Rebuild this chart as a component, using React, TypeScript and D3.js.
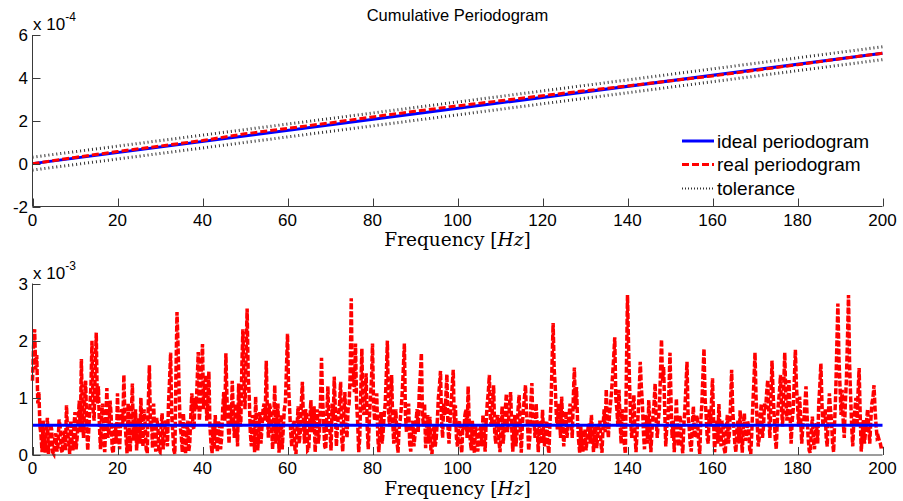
import React from 'react';
import * as d3 from 'd3';

// ---------- data ----------
// periodogram values (x 1e-3), sampled every 0.25 Hz from 0 to 200 Hz (one row = 5 Hz)
const periodogram: number[] = [
  1.3, 1.9, 2.2, 1.5, 1.75, 0.9, 1.1, 0.5, 0.35, 0.05, 0.6, 0.3, 0.04, 0.4, 0.65, 0.02, 0.2, 0.55, 0.45, 0.05,
  0.02, 0.3, 0.38, 0.06, 0.18, 0.62, 0.5, 0.1, 0.04, 0.35, 0.42, 0.08, 0.87, 0.4, 0.25, 0.02, 0.6, 0.3, 0.08, 0.5,
  0.75, 0.1, 0.3, 0.6, 0.95, 0.4, 1.68, 0.7, 0.3, 0.9, 1.3, 0.5, 0.08, 0.45, 0.85, 1.2, 2.0, 0.8, 0.6, 1.5,
  2.14, 0.9, 1.2, 0.5, 0.1, 0.7, 0.9, 0.2, 0.05, 0.6, 1.17, 0.3, 0.45, 0.95, 0.7, 0.1, 0.03, 0.4, 0.55, 0.2,
  1.08, 0.4, 0.1, 0.6, 0.8, 0.5, 1.4, 0.6, 0.3, 0.03, 0.9, 0.45, 0.06, 0.7, 1.25, 0.25, 0.5, 0.8, 0.08, 0.5,
  0.65, 0.2, 1.0, 0.45, 0.15, 0.8, 0.55, 0.1, 0.03, 0.9, 1.57, 0.5, 0.6, 0.12, 0.9, 0.4, 0.06, 0.65, 0.5, 0.05,
  0.04, 0.5, 0.73, 0.1, 0.3, 0.6, 0.55, 0.15, 0.9, 1.3, 1.79, 0.7, 0.4, 0.08, 0.02, 1.4, 2.5, 1.9, 1.1, 0.5,
  0.35, 0.05, 0.73, 0.4, 0.02, 0.3, 0.6, 0.06, 0.2, 0.7, 1.08, 0.5, 0.45, 1.0, 0.8, 1.3, 1.8, 0.6, 0.9, 1.5,
  1.94, 0.8, 1.2, 1.4, 0.6, 0.9, 1.46, 0.5, 0.2, 0.03, 0.55, 0.1, 0.7, 0.35, 0.05, 0.6, 0.5, 0.1, 0.3, 0.8,
  1.1, 0.6, 1.78, 1.0, 0.6, 0.2, 0.9, 0.5, 1.3, 0.7, 0.3, 0.9, 0.7, 0.15, 1.25, 0.6, 0.5, 1.5, 2.2, 1.3,
  0.8, 1.8, 2.56, 1.4, 1.0, 0.4, 0.15, 0.7, 0.6, 0.05, 1.02, 0.5, 0.08, 0.45, 0.75, 0.2, 0.5, 0.8, 0.9, 0.6,
  1.65, 0.8, 0.3, 0.9, 0.8, 0.5, 0.1, 0.6, 1.22, 0.2, 0.6, 0.9, 0.04, 0.4, 0.7, 0.1, 0.45, 0.8, 0.9, 1.5,
  2.12, 1.2, 0.8, 0.4, 0.15, 0.5, 0.6, 0.1, 0.02, 0.5, 0.85, 0.2, 0.4, 0.9, 1.28, 0.6, 0.2, 0.8, 0.7, 0.08,
  0.1, 0.6, 0.96, 0.4, 0.5, 0.85, 0.05, 0.45, 0.8, 0.2, 0.4, 0.9, 1.7, 1.0, 0.6, 0.15, 0.1, 0.7, 1.2, 0.5,
  0.4, 0.08, 0.9, 0.6, 1.37, 0.8, 0.15, 0.5, 0.7, 0.9, 1.28, 0.3, 0.06, 0.7, 1.1, 0.5, 0.3, 0.8, 0.9, 1.4,
  2.74, 1.2, 1.5, 1.1, 1.95, 0.9, 0.6, 0.05, 0.3, 1.1, 1.86, 0.8, 0.7, 1.0, 1.43, 0.5, 0.1, 0.6, 1.0, 1.3,
  1.95, 0.9, 0.6, 0.8, 1.08, 0.3, 0.05, 0.5, 0.75, 0.2, 0.4, 0.7, 0.9, 1.4, 2.0, 0.8, 0.5, 0.9, 1.4, 0.6,
  0.2, 0.5, 0.8, 0.25, 0.04, 0.45, 0.6, 0.8, 1.1, 1.5, 1.95, 0.7, 0.4, 0.6, 0.9, 0.2, 0.06, 0.5, 0.6, 0.15,
  0.35, 0.6, 0.8, 0.4, 1.1, 1.4, 1.78, 0.7, 0.5, 0.9, 0.12, 0.5, 0.7, 0.2, 0.67, 0.08, 0.02, 0.4, 0.5, 0.15,
  0.3, 0.6, 1.0, 1.2, 1.47, 0.6, 0.3, 0.9, 0.7, 1.0, 1.41, 0.5, 0.2, 0.6, 0.9, 1.2, 1.49, 0.5, 0.87, 0.3,
  0.15, 0.5, 0.6, 0.2, 0.04, 0.5, 0.45, 0.7, 0.8, 0.3, 1.2, 0.6, 0.25, 0.08, 0.6, 0.2, 0.03, 0.5, 0.4, 0.06,
  0.2, 0.45, 0.5, 0.15, 0.7, 0.4, 0.06, 0.6, 0.9, 1.1, 1.4, 0.6, 0.5, 0.9, 1.22, 0.4, 0.2, 0.6, 0.7, 0.25,
  0.05, 0.5, 0.85, 0.2, 0.45, 0.8, 1.07, 0.4, 0.6, 0.9, 1.1, 0.5, 0.06, 0.4, 0.7, 0.15, 0.4, 0.8, 1.05, 0.5,
  0.04, 0.5, 0.8, 1.0, 1.22, 0.7, 0.5, 0.08, 0.3, 0.9, 1.26, 0.5, 0.6, 0.3, 0.9, 0.5, 0.05, 0.6, 0.55, 0.2,
  0.79, 0.4, 0.15, 0.5, 0.6, 0.2, 0.03, 0.55, 0.9, 1.6, 2.31, 1.5, 1.2, 0.7, 0.45, 0.9, 0.7, 0.3, 1.02, 0.6,
  0.15, 0.5, 0.76, 0.3, 0.5, 0.7, 0.9, 0.6, 0.3, 1.0, 1.53, 0.8, 1.19, 0.6, 0.25, 0.04, 0.5, 0.2, 0.06, 0.4,
  0.45, 0.08, 0.3, 0.5, 0.55, 0.2, 0.7, 0.4, 0.05, 0.45, 0.5, 0.12, 0.35, 0.5, 0.6, 0.2, 0.04, 0.5, 0.8, 0.4,
  1.15, 0.6, 0.3, 0.7, 0.9, 1.1, 1.4, 1.7, 2.06, 1.0, 0.8, 0.5, 1.14, 0.6, 0.2, 0.8, 0.6, 0.2, 0.02, 1.5,
  2.8, 1.9, 1.2, 0.6, 0.3, 0.8, 1.05, 0.4, 0.05, 0.4, 0.7, 1.1, 1.63, 1.2, 0.9, 0.4, 0.1, 0.7, 0.6, 0.2,
  0.96, 0.5, 0.05, 0.4, 0.7, 0.9, 1.25, 0.6, 0.3, 0.6, 0.8, 1.4, 2.02, 1.3, 1.54, 0.8, 0.15, 0.5, 0.6, 1.1,
  1.79, 0.9, 0.3, 0.6, 0.05, 0.5, 0.99, 0.4, 0.15, 0.7, 0.6, 0.2, 0.03, 0.5, 0.8, 1.2, 1.63, 0.7, 0.5, 0.2,
  0.06, 0.5, 0.85, 0.3, 0.35, 0.7, 0.6, 0.2, 0.02, 0.6, 0.9, 1.4, 1.86, 1.0, 0.7, 0.3, 0.2, 0.8, 0.5, 0.9,
  1.34, 0.6, 0.05, 0.4, 0.6, 0.2, 0.89, 0.5, 0.15, 0.6, 0.5, 0.1, 0.02, 0.45, 0.7, 0.2, 0.4, 0.9, 1.49, 0.8,
  0.5, 0.2, 0.05, 0.45, 0.6, 0.2, 0.78, 0.4, 0.04, 0.5, 0.73, 0.25, 0.3, 0.6, 0.5, 0.1, 0.02, 0.4, 0.9, 1.3,
  1.79, 1.0, 0.6, 0.15, 0.3, 0.7, 0.9, 0.3, 0.5, 0.9, 0.8, 1.1, 1.31, 0.7, 0.3, 1.0, 1.65, 1.1, 0.7, 0.3,
  0.1, 0.6, 0.9, 1.1, 1.4, 0.8, 0.5, 1.2, 1.79, 1.0, 0.6, 0.9, 1.31, 0.7, 0.2, 0.6, 0.8, 1.3, 1.84, 1.2,
  0.9, 0.5, 1.02, 0.6, 0.2, 0.5, 0.6, 0.9, 1.2, 0.7, 0.3, 0.08, 0.04, 0.4, 0.67, 0.25, 0.1, 0.5, 0.55, 0.2,
  0.9, 1.2, 1.6, 0.9, 0.5, 0.7, 0.8, 0.3, 0.15, 0.7, 1.08, 0.8, 0.6, 0.2, 0.05, 0.6, 1.1, 1.9, 2.65, 1.7,
  1.2, 0.7, 1.14, 0.6, 0.3, 0.9, 1.3, 2.0, 2.8, 1.6, 1.02, 0.5, 0.15, 0.6, 0.8, 1.0, 0.5, 1.1, 1.52, 0.7,
  0.06, 0.4, 0.61, 0.2, 0.4, 0.6, 0.8, 0.5, 0.2, 0.6, 0.9, 1.0, 1.22, 0.8, 0.5, 0.3, 0.32, 0.25, 0.2, 0.1,
  0.15,
];
const freqStep = 0.25;
const idealLevel = 0.52; // x 1e-3

// cumulative periodogram (x 1e-4)
const cumFreq = [0, 10, 20, 30, 40, 50, 60, 70, 80, 90, 100, 110, 120, 130, 140, 150, 160, 170, 180, 190, 200];
const cumReal = [0.0, 0.29, 0.565, 0.82, 1.08, 1.39, 1.645, 1.9, 2.18, 2.44, 2.695, 2.93, 3.17, 3.4, 3.625, 3.86, 4.09, 4.35, 4.615, 4.89, 5.15];
const idealFreq = [0, 200];
const idealCum = [0, 5.15];
const tolerance = 0.3;

const xTicks = [0, 20, 40, 60, 80, 100, 120, 140, 160, 180, 200];
const topYTicks = [-2, 0, 2, 4, 6];
const botYTicks = [0, 1, 2, 3];
const legendLabels = ['ideal periodogram', 'real periodogram', 'tolerance'];

// ---------- styling ----------
const BLUE = '#0000ff';
const RED = '#ff0000';
const TOL = '#303030';
const AXIS = '#3a3a3a';
const SANS = '"Liberation Sans", Arial, Helvetica, sans-serif';
const SERIF = '"DejaVu Serif", "Liberation Serif", serif';

export default function App() {
  const W = 903, H = 501;
  const x = d3.scaleLinear().domain([0, 200]).range([32.5, 882.5]);
  const yTop = d3.scaleLinear().domain([-2, 6]).range([206.5, 35]);
  const yBot = d3.scaleLinear().domain([0, 3]).range([455, 283.5]);

  const pData = periodogram.map((v, i) => ({ f: i * freqStep, v }));
  const lineBot = d3.line<{ f: number; v: number }>().x(d => x(d.f)).y(d => yBot(d.v));
  const realCumData = cumFreq.map((f, i) => ({ f, v: cumReal[i] }));
  const idealData = idealFreq.map((f, i) => ({ f, v: idealCum[i] }));
  const upperData = idealFreq.map((f, i) => ({ f, v: idealCum[i] + tolerance }));
  const lowerData = idealFreq.map((f, i) => ({ f, v: idealCum[i] - tolerance }));
  const lineTop = d3.line<{ f: number; v: number }>().x(d => x(d.f)).y(d => yTop(d.v));

  const axes = (y: d3.ScaleLinear<number, number>, yTicks: number[], y0: number, y1: number) => (
    <g>
      <line x1={32.5} x2={32.5} y1={y1} y2={y0} stroke={AXIS} strokeWidth={1} />
      <line x1={32.5} x2={882.5} y1={y0} y2={y0} stroke={AXIS} strokeWidth={1} />
      {xTicks.map(t => (
        <g key={'x' + t}>
          <line x1={Math.round(x(t)) + 0.5} x2={Math.round(x(t)) + 0.5} y1={y0} y2={y0 - 8} stroke={AXIS} />
          <text x={x(t)} y={y0 + 19} textAnchor="middle" fontFamily={SANS} fontSize={17} fill="#000">{t}</text>
        </g>
      ))}
      {yTicks.map(t => (
        <g key={'y' + t}>
          <line x1={32.5} x2={40.5} y1={Math.round(y(t)) + 0.5} y2={Math.round(y(t)) + 0.5} stroke={AXIS} />
          <text x={28} y={y(t)} dy="0.36em" textAnchor="end" fontFamily={SANS} fontSize={17} fill="#000">{t}</text>
        </g>
      ))}
    </g>
  );

  const xLabel = (yy: number) => (
    <text x={457.5} y={yy} textAnchor="middle" fontFamily={SERIF} fontSize={18.5} fill="#000">
      Frequency [<tspan fontStyle="italic">Hz</tspan>]
    </text>
  );

  const exponent = (yy: number, e: string) => (
    <text x={33} y={yy} fontFamily={SANS} fontSize={17} fill="#000">
      x 10<tspan dy={-9} fontSize={12}>{e}</tspan>
    </text>
  );

  return (
    <svg width={W} height={H} style={{ position: 'absolute', left: 0, top: 0, background: '#fff' }}>
      <rect width={W} height={H} fill="#fff" />
      {/* ---------- top chart ---------- */}
      <text x={457.5} y={21} textAnchor="middle" fontFamily={SANS} fontSize={16.5} fill="#000">Cumulative Periodogram</text>
      {exponent(30, '-4')}
      <path d={lineTop(upperData) || ''} fill="none" stroke={TOL} strokeWidth={3} strokeDasharray="1 3" />
      <path d={lineTop(lowerData) || ''} fill="none" stroke={TOL} strokeWidth={3} strokeDasharray="1 3" />
      <path d={lineTop(idealData) || ''} fill="none" stroke={BLUE} strokeWidth={3} />
      <path d={lineTop(realCumData) || ''} fill="none" stroke={RED} strokeWidth={3} strokeDasharray="7 3" />
      {axes(yTop, topYTicks, 206.5, 35)}
      {xLabel(246)}
      {/* legend */}
      {legendLabels.map((lab, i) => {
        const ly = [141, 164.5, 188.5][i];
        const style = [
          { stroke: BLUE, dash: undefined, w: 3 },
          { stroke: RED, dash: '7 3', w: 3 },
          { stroke: TOL, dash: '1 2', w: 2 },
        ][i];
        return (
          <g key={lab}>
            <line x1={682} x2={714} y1={ly} y2={ly} stroke={style.stroke} strokeWidth={style.w} strokeDasharray={style.dash} />
            <text x={717} y={ly} dy="0.36em" fontFamily={SANS} fontSize={19} fill="#000">{lab}</text>
          </g>
        );
      })}
      {/* ---------- bottom chart ---------- */}
      {exponent(279, '-3')}
      <path d={lineBot(pData) || ''} fill="none" stroke={RED} strokeWidth={3.5} strokeDasharray="6 2" strokeLinejoin="miter" />
      <line x1={x(0)} x2={x(200)} y1={yBot(idealLevel)} y2={yBot(idealLevel)} stroke={BLUE} strokeWidth={3} />
      {axes(yBot, botYTicks, 455, 283.5)}
      {xLabel(495)}
    </svg>
  );
}
